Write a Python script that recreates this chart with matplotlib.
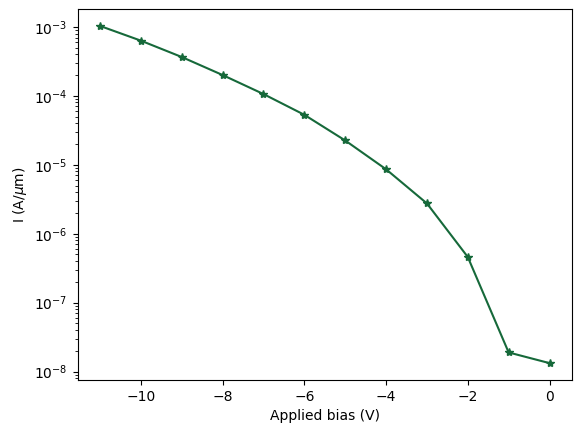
import matplotlib
matplotlib.use("Agg")
import matplotlib.pyplot as plt

# Courant en fonction de la tension appliquée
bias = [-11, -10, -9, -8, -7, -6, -5, -4, -3, -2, -1, 0]
current = [1.03e-3, 6.3e-4, 3.65e-4, 2.0e-4, 1.06e-4, 5.3e-5, 2.25e-5,
           8.6e-6, 2.75e-6, 4.6e-7, 1.9e-8, 1.33e-8]

fig, ax = plt.subplots(figsize=(5.82, 4.32), dpi=100)
fig.subplots_adjust(left=0.1332, right=0.9828, bottom=0.1204, top=0.979)
ax.plot(bias, current, marker='*', color='#16693a')
ax.set_yscale('log')
ax.set_xlabel('Applied bias (V)')
ax.set_ylabel(r'I (A/$\mu$m)')

plt.savefig('out.png', dpi=100)
